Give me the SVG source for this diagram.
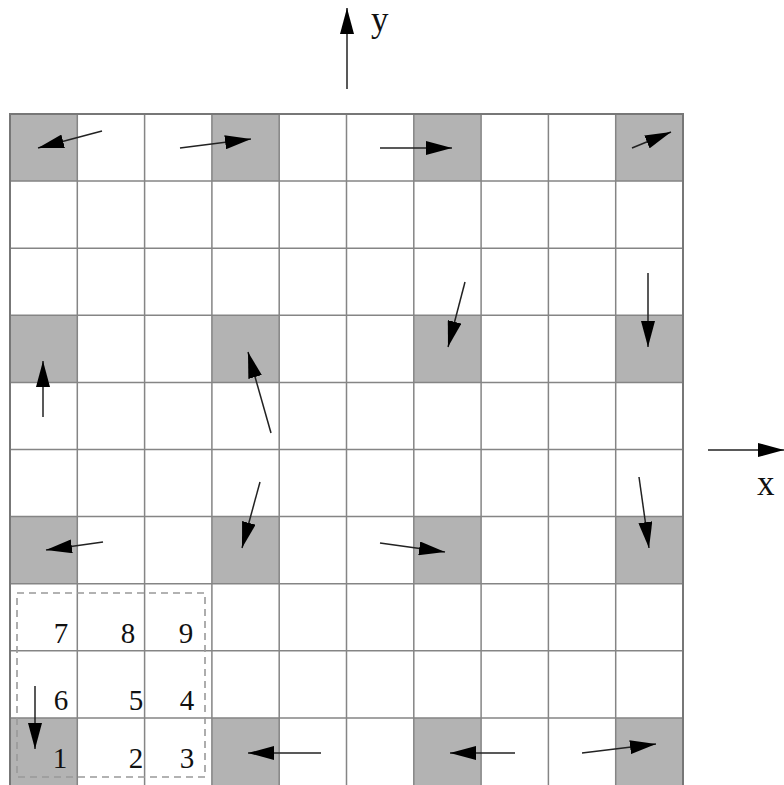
<svg xmlns="http://www.w3.org/2000/svg" width="784" height="785" viewBox="0 0 784 785">
<style>
.shade{fill:#b3b3b3;}
.grid{stroke:#858585;stroke-width:1.5;fill:none;}
.border{stroke:#777;stroke-width:2;fill:none;}
.arr{stroke:#222;stroke-width:1.5;fill:none;marker-end:url(#ah);}
.dash{stroke:#999;stroke-width:1.6;fill:none;stroke-dasharray:7 5;}
.num{font-family:"Liberation Serif",serif;font-size:29px;fill:#111;text-anchor:middle;}
.ax{font-family:"Liberation Serif",serif;font-size:35px;fill:#111;}
</style>
<defs>
<marker id="ah" viewBox="0 0 26 14" refX="26" refY="7" markerWidth="26" markerHeight="14" markerUnits="userSpaceOnUse" orient="auto">
<path d="M0,0 L26,7 L0,14 Z" fill="#000"/>
</marker>
</defs>
<rect width="784" height="785" fill="#fff"/>
<g id="shaded">
<rect class="shade" x="10" y="114" width="67.3" height="67.1"/>
<rect class="shade" x="211.9" y="114" width="67.3" height="67.1"/>
<rect class="shade" x="413.8" y="114" width="67.3" height="67.1"/>
<rect class="shade" x="615.7" y="114" width="67.3" height="67.1"/>
<rect class="shade" x="10" y="315.3" width="67.3" height="67.1"/>
<rect class="shade" x="211.9" y="315.3" width="67.3" height="67.1"/>
<rect class="shade" x="413.8" y="315.3" width="67.3" height="67.1"/>
<rect class="shade" x="615.7" y="315.3" width="67.3" height="67.1"/>
<rect class="shade" x="10" y="516.6" width="67.3" height="67.1"/>
<rect class="shade" x="211.9" y="516.6" width="67.3" height="67.1"/>
<rect class="shade" x="413.8" y="516.6" width="67.3" height="67.1"/>
<rect class="shade" x="615.7" y="516.6" width="67.3" height="67.1"/>
<rect class="shade" x="10" y="717.9" width="67.3" height="67.1"/>
<rect class="shade" x="211.9" y="717.9" width="67.3" height="67.1"/>
<rect class="shade" x="413.8" y="717.9" width="67.3" height="67.1"/>
<rect class="shade" x="615.7" y="717.9" width="67.3" height="67.1"/>
</g>
<g id="grid">
<path class="grid" d="M77.3,114V785 M144.6,114V785 M211.9,114V785 M279.2,114V785 M346.5,114V785 M413.8,114V785 M481.1,114V785 M548.4,114V785 M615.7,114V785
M10,181.1H683 M10,248.2H683 M10,315.3H683 M10,382.4H683 M10,449.5H683 M10,516.6H683 M10,583.7H683 M10,650.8H683 M10,717.9H683"/>
<rect class="border" x="10" y="114" width="673" height="672"/>
</g>
<g id="window">
<rect class="dash" x="17" y="593" width="188" height="184"/>
<text class="num" x="61" y="643">7</text>
<text class="num" x="128" y="643">8</text>
<text class="num" x="186" y="643">9</text>
<text class="num" x="61" y="710">6</text>
<text class="num" x="136" y="710">5</text>
<text class="num" x="187" y="710">4</text>
<text class="num" x="60" y="768">1</text>
<text class="num" x="136" y="768">2</text>
<text class="num" x="187" y="768">3</text>
</g>
<g id="connectors">
<line class="arr" x1="102" y1="131" x2="38" y2="148"/>
<line class="arr" x1="180" y1="148" x2="251" y2="139"/>
<line class="arr" x1="380" y1="148" x2="452" y2="148"/>
<line class="arr" x1="632" y1="148" x2="671" y2="132"/>
<line class="arr" x1="43" y1="417" x2="43" y2="361"/>
<line class="arr" x1="271" y1="433" x2="248" y2="352"/>
<line class="arr" x1="465" y1="282" x2="448" y2="347"/>
<line class="arr" x1="648" y1="273" x2="648" y2="347"/>
<line class="arr" x1="103" y1="542" x2="46" y2="550"/>
<line class="arr" x1="260" y1="482" x2="242" y2="548"/>
<line class="arr" x1="380" y1="543" x2="445" y2="552"/>
<line class="arr" x1="639" y1="477" x2="649" y2="548"/>
<line class="arr" x1="35" y1="686" x2="35" y2="749"/>
<line class="arr" x1="321" y1="753" x2="248" y2="753"/>
<line class="arr" x1="515" y1="753" x2="450" y2="753"/>
<line class="arr" x1="582" y1="753" x2="656" y2="744"/>
</g>
<g id="axes">
<line class="arr" x1="347" y1="89" x2="347" y2="8"/>
<text class="ax" x="371" y="31">y</text>
<line class="arr" x1="708" y1="450" x2="784" y2="450"/>
<text class="ax" x="757" y="495">x</text>
</g>
</svg>
